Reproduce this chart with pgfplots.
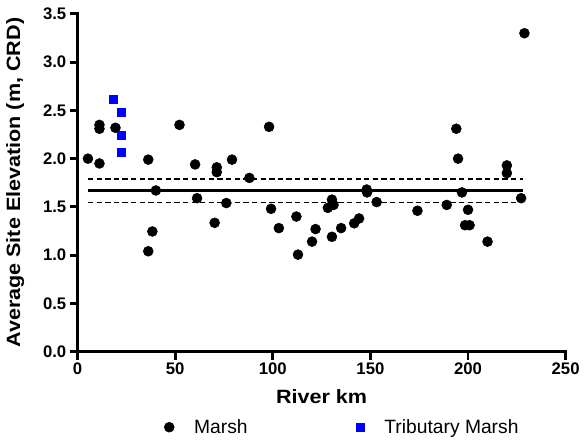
\documentclass[border=0pt]{standalone}
\usepackage{fontspec}
\setmainfont{Liberation Sans}
\newfontfamily\labfont[FakeStretch=1.12]{Liberation Sans}
\usepackage{pgfplots}
\pgfplotsset{compat=1.18}
\begin{document}
\begin{tikzpicture}
\begin{axis}[
  scale only axis,
  width=367.5pt, height=254.25pt,
  xmin=0, xmax=250, ymin=0, ymax=3.5,
  axis x line=bottom, axis y line=left,
  axis line style={-, line width=2.6pt, line cap=rect},
  xtick={0,50,...,250},
  ytick={0,0.5,...,3.5},
  /pgf/number format/assume math mode=true,
  tick align=outside,
  major tick length=6pt,
  tick style={line width=2.2pt, black},
  ticklabel style={font=\fontsize{12.6}{14}\selectfont\bfseries},
  xticklabel style={yshift=1pt},
  yticklabel style={/pgf/number format/fixed, /pgf/number format/fixed zerofill, /pgf/number format/precision=1, xshift=1pt},
  xlabel={River km},
  ylabel={Average Site Elevation (m, CRD)},
  label style={font=\labfont\fontsize{14.5}{16}\selectfont\bfseries},
  xlabel style={at={(rel axis cs:0.5,-0.153)}, anchor=base},
  ylabel style={at={(rel axis cs:-0.1,0.5)}, anchor=south},
  clip=false,
  legend style={at={(rel axis cs:0.1776,-0.224)}, anchor=west, draw=none,
    inner sep=0pt, outer sep=0pt, legend columns=2,
    nodes={inner sep=0pt},
    font=\fontsize{14.5}{16}\selectfont,
    /tikz/every odd column/.append style={column sep=15pt},
    /tikz/every even column/.append style={column sep=82pt}},
  legend image code/.code={\draw[#1] plot coordinates {(0pt,0pt)};},
  legend cell align=left,
]
\path (rel axis cs:-0.159,-0.2714) rectangle (rel axis cs:1.0327,1.0413);
\addplot[only marks, mark=*, mark size=3.75pt, black] coordinates {
(5.3,2.00) (11.2,1.95) (11.2,2.31) (11.2,2.35) (19.4,2.32) (36.2,1.99)
(52.2,2.35) (60.2,1.94) (71.3,1.91) (71.3,1.86) (79.1,1.99) (88.0,1.80)
(40.1,1.67) (61.2,1.59) (76.2,1.54) (70.2,1.335) (38.3,1.245) (36.2,1.04)
(98.1,2.33) (99.1,1.48) (112.1,1.40) (103.1,1.28) (121.9,1.27) (120.1,1.14)
(112.9,1.005) (130.3,1.575) (131.1,1.52) (128.2,1.49) (130.3,1.19)
(135.0,1.28) (141.7,1.33) (144.2,1.38) (148.1,1.68) (148.3,1.65) (153.2,1.55)
(228.9,3.30) (194.0,2.31) (194.9,2.00) (219.9,1.93) (219.9,1.85)
(196.9,1.65) (227.2,1.59) (174.1,1.46) (189.1,1.52) (200.0,1.47)
(198.5,1.31) (200.8,1.31) (210.0,1.14)
};
\addlegendentry{Marsh}
\addplot[only marks, mark=square*, mark size=3pt, blue, mark options={fill=blue, draw=blue}] coordinates {
(18.2,2.62) (22.3,2.48) (22.3,2.245) (22.3,2.07)
};
\addlegendentry{Tributary Marsh}
\addplot[black, line width=2pt, forget plot] coordinates {(5.3,1.668) (228,1.668)};
\addplot[black, line width=1.1pt, dash pattern=on 4pt off 2.5pt, forget plot] coordinates {(5.3,1.79) (228,1.79)};
\addplot[black, line width=1.1pt, dash pattern=on 4pt off 2.5pt, forget plot] coordinates {(5.3,1.545) (228,1.545)};
\end{axis}
\end{tikzpicture}
\end{document}
